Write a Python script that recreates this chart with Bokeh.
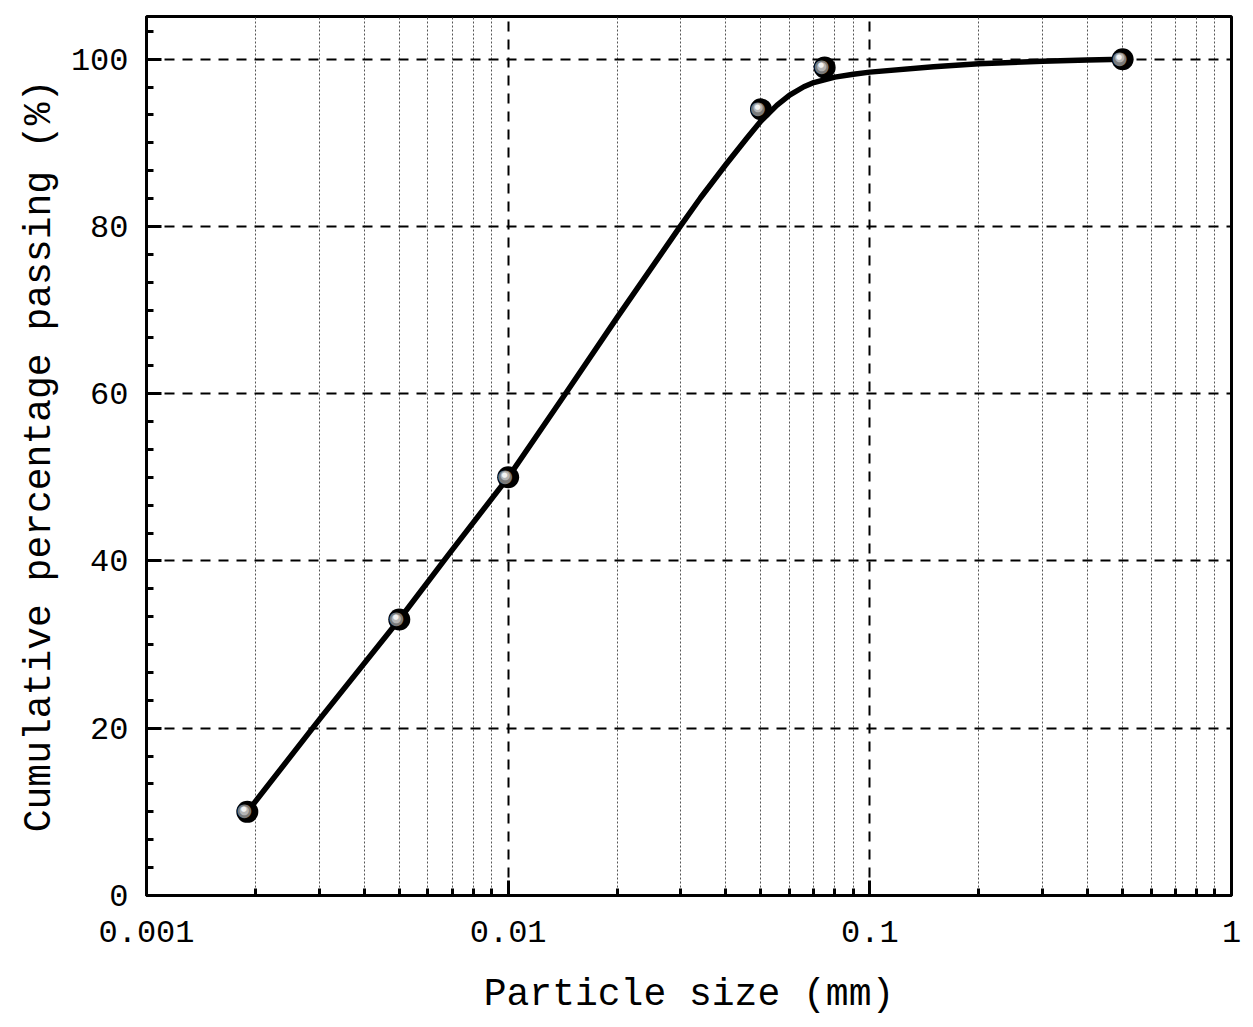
from bokeh.plotting import figure
from bokeh.models import FixedTicker, Range1d, ColumnDataSource
from bokeh.core.properties import value
from bokeh.embed import file_html
from bokeh.resources import INLINE

# measured particle-size distribution
size_mm = [0.0019, 0.005, 0.01, 0.05, 0.075, 0.5]
passing = [10, 33, 50, 94, 99, 100]

# fitted curve
curve_x = [0.0019, 0.003, 0.005, 0.0068, 0.01, 0.0144, 0.02, 0.0299, 0.034,
           0.04, 0.0458, 0.05, 0.0554, 0.06, 0.0657, 0.07, 0.08, 0.09, 0.1,
           0.15, 0.2, 0.3, 0.4, 0.5]
curve_y = [10, 21, 33, 40.6, 50, 60, 69.1, 80.0, 83.4, 87.4, 90.6, 92.6, 94.5,
           95.7, 96.7, 97.2, 97.85, 98.2, 98.45, 99.1, 99.45, 99.75, 99.9, 100]

x_ticks = [0.001, 0.01, 0.1, 1]
x_tick_labels = ["0.001", "0.01", "0.1", "1"]
x_minor = [m * d for d in [0.001, 0.01, 0.1] for m in range(2, 10)]
y_ticks = [0, 20, 40, 60, 80, 100]
y_minor = [k * 20 / 6 for k in range(0, 32) if k % 6 != 0]

FONT = "Liberation Mono"

p = figure(width=1245, height=1019, x_axis_type="log",
           x_range=Range1d(0.001, 1), y_range=Range1d(0, 105.1),
           output_backend="svg", toolbar_location=None,
           min_border_left=146, min_border_right=14,
           min_border_top=16, min_border_bottom=124)

p.background_fill_color = "white"
p.border_fill_color = "white"
p.outline_line_color = "black"
p.outline_line_width = 3
p.outline_line_alpha = 1

xt = FixedTicker(ticks=x_ticks, minor_ticks=x_minor)
yt = FixedTicker(ticks=y_ticks, minor_ticks=y_minor)
p.xaxis.ticker = xt
p.yaxis.ticker = yt
p.xgrid.ticker = xt
p.ygrid.ticker = yt

p.xaxis.major_label_overrides = {t: l for t, l in zip(x_ticks, x_tick_labels)}

for ax in (p.xaxis, p.yaxis):
    ax.axis_line_width = 3
    ax.axis_line_color = "black"
    ax.major_tick_in = 15
    ax.major_tick_out = 0
    ax.minor_tick_in = 7
    ax.minor_tick_out = 0
    ax.major_tick_line_width = 3
    ax.minor_tick_line_width = 3
    ax.major_tick_line_color = "black"
    ax.minor_tick_line_color = "black"
    ax.major_label_text_font = FONT
    ax.major_label_text_font_size = "32px"
    ax.major_label_text_color = "black"
    ax.axis_label_text_font = FONT
    ax.axis_label_text_font_size = "38px"
    ax.axis_label_text_font_style = "normal"
    ax.axis_label_text_color = "black"

p.xaxis.axis_label = "Particle size (mm)"
p.yaxis.axis_label = "Cumulative percentage passing (%)"
p.xaxis.major_label_standoff = 25
p.xaxis.axis_label_standoff = 28
p.yaxis.major_label_standoff = 18
p.yaxis.axis_label_standoff = 7

for g in (p.xgrid, p.ygrid):
    g.grid_line_color = "black"
    g.grid_line_width = 2
    g.grid_line_dash = "10 8"
    g.grid_line_alpha = 1
p.xgrid.minor_grid_line_color = "#555555"
p.xgrid.minor_grid_line_width = 1
p.xgrid.minor_grid_line_dash = "2 2"
p.ygrid.minor_grid_line_color = None

p.line(curve_x, curve_y, line_color="black", line_width=5.5, line_join="round",
       line_cap="round")

src = ColumnDataSource(dict(x=size_mm, y=passing, t=["\u25cf"] * len(size_mm)))
p.scatter("x", "y", source=src, size=22, fill_color="black", line_color=None)
p.text("x", "y", text="t", source=src, x_offset=-3, y_offset=-2,
       text_font=value("DejaVu Sans"), text_font_size="18px",
       text_color="#7a7a7a", text_align="center", text_baseline="middle")
p.text("x", "y", text="t", source=src, x_offset=-3, y_offset=-2,
       text_font=value("DejaVu Sans"), text_font_size="12px",
       text_color="#b5b5b5", text_align="center", text_baseline="middle")
p.text("x", "y", text="t", source=src, x_offset=-3.5, y_offset=-2.5,
       text_font=value("DejaVu Sans"), text_font_size="7px",
       text_color="#f2f2f2", text_align="center", text_baseline="middle")

open("out.html", "w").write(file_html(p, INLINE))
